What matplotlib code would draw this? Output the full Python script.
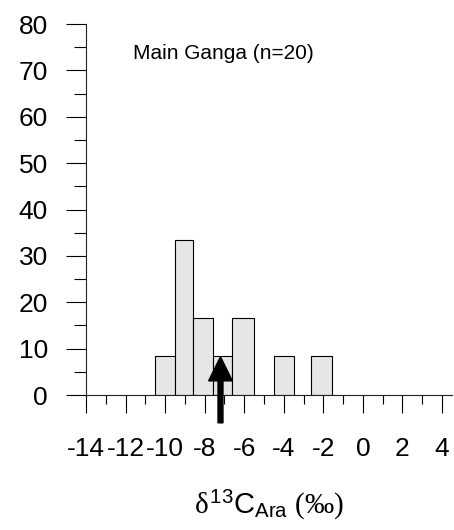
import matplotlib
matplotlib.use("Agg")
import matplotlib.pyplot as plt
from matplotlib.ticker import MultipleLocator

plt.rcParams['font.family'] = ['Liberation Sans', 'DejaVu Sans']
plt.rcParams['mathtext.fontset'] = 'custom'
plt.rcParams['mathtext.rm'] = 'Liberation Sans'
plt.rcParams['mathtext.it'] = 'Liberation Serif'
plt.rcParams['mathtext.cal'] = 'Liberation Serif'

# ── data: percent of samples per bin ─────────────────
bin_left = [-10.5, -9.5, -8.6, -7.6, -6.6, -4.5, -2.6]
bin_right = [-9.5, -8.6, -7.6, -6.6, -5.5, -3.5, -1.55]
percent = [8.33, 33.33, 16.67, 8.33, 16.67, 8.33, 8.33]

mean_value = -7.2        # arrow position
site_label = "Main Ganga (n=20)"

x_ticks = [-14, -12, -10, -8, -6, -4, -2, 0, 2, 4]
y_ticks = [0, 10, 20, 30, 40, 50, 60, 70, 80]

# ── figure ───────────────────────────────────────────
fig = plt.figure(figsize=(4.54, 5.30), dpi=100)
ax = fig.add_axes([0.1894, 0.2547, 0.806, 0.70])

widths = [r - l for l, r in zip(bin_left, bin_right)]
ax.bar(bin_left, percent, width=widths, align='edge',
       color='#e6e6e6', edgecolor='black', linewidth=0.8, zorder=2)

# mean marker arrow
ax.arrow(mean_value, -6, 0, 14.25, width=0.25, head_width=1.2,
         head_length=5.2, length_includes_head=True, color='black',
         clip_on=False, zorder=3)

ax.text(-11.63, 73.7, site_label, fontsize=15, ha='left', va='center')

ax.set_xlim(-14, 4.5)
ax.set_ylim(0, 80)
ax.set_xticks(x_ticks)
ax.set_xticklabels([str(t) for t in x_ticks])
ax.set_yticks(y_ticks)
ax.xaxis.set_minor_locator(MultipleLocator(1))
ax.yaxis.set_minor_locator(MultipleLocator(5))

for s in ['top', 'right']:
    ax.spines[s].set_visible(False)
for s in ['left', 'bottom']:
    ax.spines[s].set_linewidth(0.8)
    ax.spines[s].set_color('#222222')

ax.tick_params(axis='x', which='major', direction='out', length=13,
               width=0.8, pad=17, labelsize=19)
ax.tick_params(axis='x', which='minor', direction='out', length=6.5, width=0.8)
ax.tick_params(axis='y', which='major', direction='out', length=14.4,
               width=0.8, pad=13, labelsize=19)
ax.tick_params(axis='y', which='minor', direction='out', length=8.6, width=0.8)

ax.set_xlabel(r'$δ^{13}\mathrm{C}_{\mathrm{Ara}}\ \mathcal{(‰)}$',
              fontsize=21, labelpad=20)

fig.savefig("out.png", dpi=100)
